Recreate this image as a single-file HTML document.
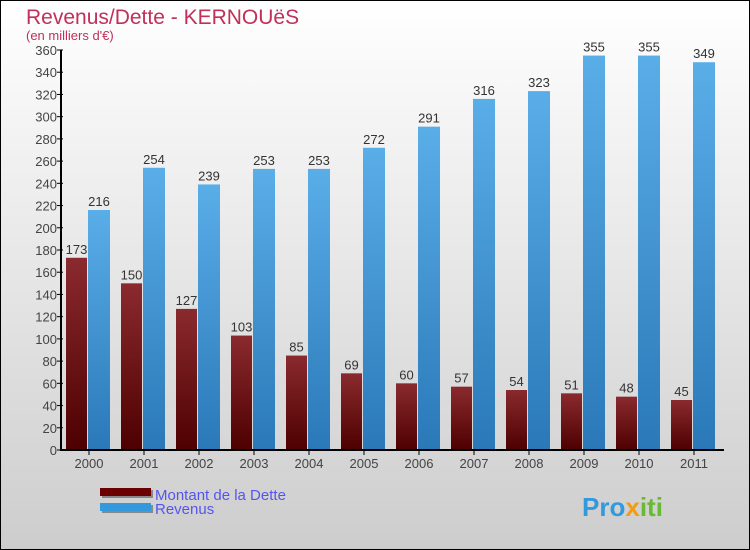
<!DOCTYPE html>
<html><head><meta charset="utf-8"><style>
body{margin:0}
svg{display:block;font-family:"Liberation Sans",sans-serif}
</style></head><body>
<svg id="c" width="750" height="550" viewBox="0 0 750 550">
<defs>
<linearGradient id="bg" x1="0" y1="0" x2="0" y2="1"><stop offset="0" stop-color="#ffffff"/><stop offset="1" stop-color="#cdcdcd"/></linearGradient>
<linearGradient id="gd" x1="0" y1="0" x2="0" y2="1"><stop offset="0" stop-color="#8a2a2e"/><stop offset="1" stop-color="#4e0000"/></linearGradient>
<linearGradient id="gr" x1="0" y1="0" x2="0" y2="1"><stop offset="0" stop-color="#5aaee8"/><stop offset="1" stop-color="#2a78b8"/></linearGradient>
</defs>
<rect x="0.5" y="0.5" width="749" height="549" fill="url(#bg)" stroke="#000"/>
<text x="26" y="24" font-size="21" fill="#c0305a">Revenus/Dette - KERNOUëS</text>
<text x="26" y="40" font-size="13" fill="#c0305a">(en milliers d'€)</text>
<g id="plot"></g>
<g>
<rect x="102" y="490" width="51" height="8" fill="#888"/><rect x="100" y="488" width="51" height="8" fill="#6a0000"/>
<text x="155" y="500" font-size="15" fill="#5555ee">Montant de la Dette</text>
<rect x="102" y="505" width="51" height="8" fill="#888"/><rect x="100" y="503" width="51" height="8" fill="#3399dd"/>
<text x="155" y="514" font-size="15" fill="#5555ee">Revenus</text>
</g>
<text x="582" y="516" font-size="26" font-weight="bold" fill="#3399dd">Pro<tspan fill="#f39c12">x</tspan><tspan fill="#66bb33">iti</tspan></text>
</svg>
<script>
const categories=["2000","2001","2002","2003","2004","2005","2006","2007","2008","2009","2010","2011"];
const dette=[173,150,127,103,85,69,60,57,54,51,48,45];
const revenus=[216,254,239,253,253,272,291,316,323,355,355,349];
const yTicks=[0,20,40,60,80,100,120,140,160,180,200,220,240,260,280,300,320,340,360];
const NS="http://www.w3.org/2000/svg";
const g=document.getElementById('plot');
const x0=62,gw=55,yb=450,yt=50,ymax=360;
const y=v=>yb-(v/ymax)*(yb-yt);
function mk(t,a,p){const e=document.createElementNS(NS,t);for(const k in a)e.setAttribute(k,a[k]);(p||g).appendChild(e);return e;}
yTicks.forEach(v=>{
  const t=mk('text',{x:57,y:y(v)+5,'font-size':13,fill:'#444','text-anchor':'end'});
  
  
  t.textContent=v;
  mk('line',{x1:57,x2:63,y1:y(v),y2:y(v),stroke:'#000'});
});
categories.forEach((c,i)=>{
  const gx=x0+i*gw;
  const d=mk('rect',{x:gx+4,y:y(dette[i]),width:21,height:yb-y(dette[i]),fill:'url(#gd)'});
  
  
  const r=mk('rect',{x:gx+26,y:y(revenus[i]),width:22,height:yb-y(revenus[i]),fill:'url(#gr)'});
  
  
  const l1=mk('text',{x:gx+14.5,y:y(dette[i])-4,'font-size':13,fill:'#333','text-anchor':'middle'});
  
  
  l1.textContent=dette[i];
  const l2=mk('text',{x:gx+37,y:y(revenus[i])-4,'font-size':13,fill:'#333','text-anchor':'middle'});
  
  
  l2.textContent=revenus[i];
  mk('line',{x1:gx+27,x2:gx+27,y1:yb,y2:yb+5,stroke:'#000'});
  const xl=mk('text',{x:gx+27,y:yb+18,'font-size':13,fill:'#444','text-anchor':'middle'});
  
  
  xl.textContent=c;
});
const ax=mk('line',{x1:61,x2:61,y1:yt,y2:yb,stroke:'#000','stroke-width':2});


const xa=mk('line',{x1:60,x2:724,y1:yb,y2:yb,stroke:'#000','stroke-width':2});


</script>
</body></html>
